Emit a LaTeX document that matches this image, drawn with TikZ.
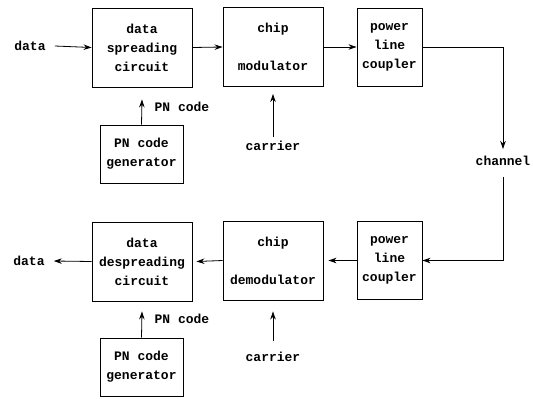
\documentclass[tikz,border=0pt]{standalone}
\usepackage{fontspec}
\setmonofont{Liberation Mono}
\usetikzlibrary{arrows.meta}
\begin{document}
\begin{tikzpicture}[x=1pt,y=-1pt,
  every node/.style={font=\ttfamily\bfseries\fontsize{13}{19}\selectfont, inner sep=0pt},
  blockbox/.style={draw, line width=0.9pt, minimum width=100pt, minimum height=79pt, align=center},
  couplerbox/.style={draw, line width=0.9pt, minimum width=65pt, minimum height=78pt, align=center},
  genbox/.style={draw, line width=0.9pt, minimum width=83pt, minimum height=58pt, align=center},
  flow/.style={line width=0.8pt, -{Stealth[length=8pt,width=5.5pt]}}
]
\useasboundingbox (0,0) rectangle (533,399);

% transmitter chain
\node (din) at (30,46) {data};
\node[blockbox] (spread) at (142,47.5) {data\\spreading\\circuit};
\node[blockbox] (mod) at (273,47) {chip\\\\modulator};
\node[couplerbox] (cpl1) at (389.5,47) {power\\line\\coupler};
\node[genbox] (gen1) at (141.5,154) {PN code\\generator};
\node (pn1) at (182,107) {PN code};
\node (car1) at (273,146) {carrier};
\coordinate (car1top) at (273,137);

% channel
\node (chan) at (503,161) {channel};

% receiver chain
\node[couplerbox] (cpl2) at (389.5,260.5) {power\\line\\coupler};
\node[blockbox] (demod) at (273,260.5) {chip\\\\demodulator};
\node[blockbox] (despread) at (142,261.5) {data\\despreading\\circuit};
\node (dout) at (29,261) {data};
\node[genbox] (gen2) at (141.5,367) {PN code\\generator};
\node (pn2) at (182,319) {PN code};
\node (car2) at (273,357) {carrier};
\coordinate (car2top) at (273,341);

% connectors
\draw[flow] ([xshift=9pt]din.east) -- (spread.west);
\draw[flow] (spread.east) -- (mod.west);
\draw[flow] (mod.east) -- (cpl1.west);
\draw[flow] (cpl1.east) -| ([yshift=7pt]chan.north);
\draw[flow] ([yshift=-11pt]chan.south) |- (cpl2.east);
\draw[flow] (cpl2.west) -- ([xshift=5pt]demod.east);
\draw[flow] (demod.west) -- ([xshift=4pt]despread.east);
\draw[flow] (despread.west) -- ([xshift=9pt]dout.east);
\draw[flow] (gen1.north) -- ([yshift=-12pt]spread.south);
\draw[flow] (car1top) -- ([yshift=-7pt]mod.south);
\draw[flow] (gen2.north) -- ([yshift=-10pt]despread.south);
\draw[flow] (car2top) -- ([yshift=-11pt]demod.south);
\end{tikzpicture}
\end{document}
